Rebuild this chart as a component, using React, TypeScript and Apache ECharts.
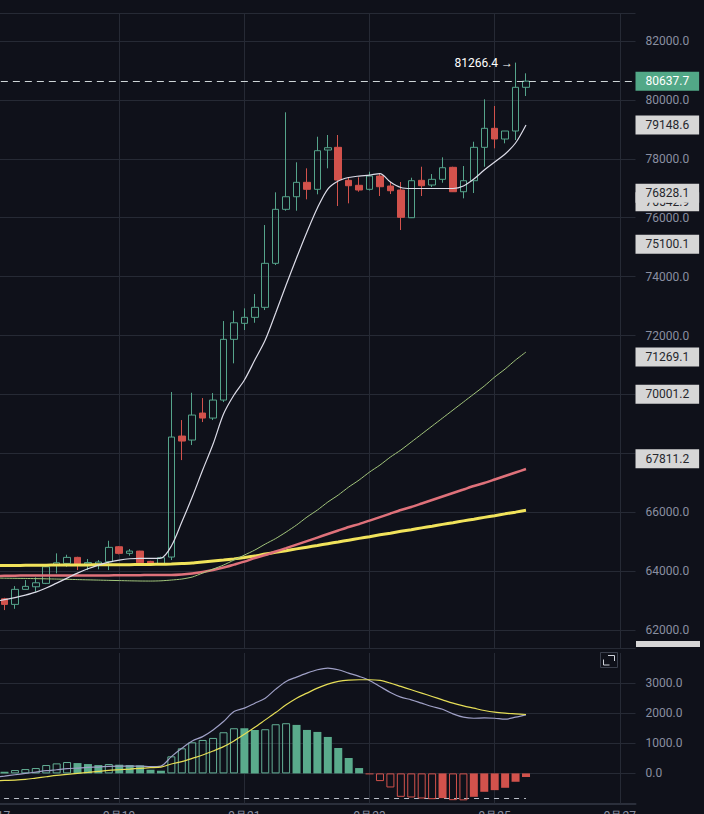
import React, { useEffect, useRef } from "react";
import * as echarts from "echarts";

// ---------- categories (4h candles; the 9/17 00:00 slot sits just off the left edge) ----------
const categories: string[] = [];
for (let i = 0; i < 62; i++) {
  const day = 17 + Math.floor(i / 6);
  const hour = (i % 6) * 4;
  categories.push(`9月${day} ${String(hour).padStart(2, "0")}:00`);
}

// ---------- candles [open, close, low, high] ----------
const candles: number[][] = [
  [63060, 62870, 62677, 63094],
  [62870, 63380, 62720, 63492],
  [63380, 63482, 63372, 63696],
  [63468, 63604, 63298, 63787],
  [63584, 64147, 63560, 64170],
  [64205, 64283, 63923, 64603],
  [64262, 64466, 64147, 64555],
  [64466, 64205, 64035, 64487],
  [64240, 64290, 64035, 64410],
  [64240, 64307, 64060, 64375],
  [64317, 64806, 64035, 65030],
  [64827, 64603, 64568, 64850],
  [64603, 64680, 64522, 64748],
  [64680, 64283, 64262, 64690],
  [64330, 64240, 64205, 64350],
  [64240, 64455, 64205, 64490],
  [64477, 68552, 64375, 70080],
  [68586, 68416, 67770, 69129],
  [68450, 69299, 68280, 70056],
  [69367, 69197, 69061, 69876],
  [69197, 69808, 69129, 70046],
  [69808, 71870, 69740, 72491],
  [71870, 72433, 71055, 72841],
  [72413, 72617, 72186, 72922],
  [72617, 72957, 72433, 73408],
  [72957, 74451, 72865, 75751],
  [74451, 76285, 74393, 76862],
  [76285, 76712, 76237, 79579],
  [76712, 77201, 76237, 77881],
  [77201, 76964, 76624, 77677],
  [76964, 78275, 76794, 78750],
  [78298, 78376, 77677, 78808],
  [78390, 77280, 76397, 78808],
  [77269, 77086, 76488, 77358],
  [77100, 76940, 76882, 77371],
  [76964, 77415, 76923, 77561],
  [77415, 77052, 76736, 77517],
  [77076, 76916, 76804, 77222],
  [76940, 76013, 75582, 77212],
  [76000, 77256, 75989, 77358],
  [77269, 77086, 76736, 77731],
  [77110, 77303, 77042, 77483],
  [77303, 77697, 77188, 78050],
  [77711, 76882, 76872, 77731],
  [76882, 77256, 76658, 77755],
  [77256, 78390, 76838, 78580],
  [78390, 79035, 77731, 80020],
  [79035, 78672, 78356, 79793],
  [78672, 78944, 78526, 78944],
  [78944, 80428, 78638, 81266.4],
  [80428, 80637.7, 80132, 80903],
];

// ---------- moving averages (first value = the off-screen 9/17 00:00 slot) ----------
const maWhite = [
  62960,
  63033, 63100, 63185, 63287, 63424, 63593, 63763, 63933, 64079, 64205,
  64307, 64375, 64419, 64432, 64432, 64443, 64850, 65665, 66514, 67431,
  68314, 69333, 69978, 70488, 71167, 71846, 72763, 73714, 74631, 75514,
  76329, 76974, 77246, 77365, 77415, 77449, 77500, 77212, 77025, 76991,
  76991, 76991, 76991, 76991, 77076, 77313, 77619, 77891, 78163, 78536,
  79148.6,
];
const maGreen = [
  63765,
  63760, 63755, 63750, 63745, 63738, 63730, 63722, 63712, 63703, 63695,
  63686, 63678, 63670, 63664, 63662, 63670, 63696, 63730, 63798, 63933,
  64069, 64205, 64375, 64545, 64714, 64918, 65105, 65326, 65564, 65835,
  66073, 66345, 66582, 66854, 67092, 67363, 67601, 67873, 68111, 68382,
  68654, 68926, 69197, 69469, 69741, 70012, 70284, 70590, 70862, 71167,
  71439,
];
const maRed = [
  63835,
  63840, 63845, 63848, 63850, 63852, 63850, 63848, 63848, 63850, 63852,
  63855, 63858, 63860, 63862, 63870, 63865, 63865, 63882, 63916, 63967,
  64035, 64120, 64221, 64323, 64443, 64545, 64664, 64782, 64901, 65020,
  65139, 65258, 65377, 65496, 65597, 65716, 65835, 65954, 66073, 66175,
  66294, 66413, 66532, 66651, 66769, 66888, 66990, 67109, 67228, 67347,
  67466,
];
const maYellow = [
  64185,
  64188, 64192, 64196, 64200, 64203, 64205, 64207, 64209, 64211, 64213,
  64215, 64217, 64219, 64222, 64226, 64232, 64239, 64256, 64273, 64307,
  64341, 64375, 64415, 64460, 64511, 64579, 64636, 64694, 64755, 64813,
  64871, 64932, 64990, 65051, 65112, 65170, 65231, 65288, 65350, 65407,
  65468, 65526, 65587, 65645, 65706, 65764, 65825, 65883, 65944, 66002,
  66063,
];

// ---------- MACD ----------
const macdHist = [
  56, 111, 144, 178, 278, 333, 378, 344, 311, 278,
  311, 289, 278, 267, 122, 89,
  567, 833, 1033, 1111, 1178, 1367, 1500, 1500, 1444, 1467,
  1633, 1667, 1611, 1444, 1378, 1211, 844, 511, 178,
  -33, -256, -467, -778, -800, -833, -856, -822, -889, -895,
  -778, -611, -556, -478, -278, -120,
];
const macdDif = [
  -130,
  -89, -44, 0, 44, 89, 122, 156, 178, 200, 211,
  233, 244, 244, 244, 222, 244,
  556, 833, 1078, 1222, 1444, 1722, 2055, 2167, 2333, 2500,
  2800, 3056, 3200, 3333, 3444, 3500, 3444, 3333, 3222,
  3089, 2889, 2689, 2533, 2444, 2333, 2222, 2133, 1978, 1867,
  1833, 1844, 1833, 1800, 1867, 1944,
];
const macdDea = [
  -245,
  -233, -222, -200, -156, -111, -67, -33, 0, 33, 67,
  100, 122, 144, 167, 189, 211,
  311, 389, 500, 611, 744, 889, 1078, 1300, 1533, 1778,
  2022, 2278, 2500, 2667, 2833, 2967, 3056, 3100, 3111,
  3111, 3089, 3000, 2889, 2778, 2667, 2556, 2444, 2333, 2244,
  2167, 2089, 2033, 2000, 1978, 1956,
];
const macdFloor = -820;

// ---------- axis / tag values ----------
const priceTicks = [62000, 64000, 66000, 68000, 70000, 72000, 74000, 76000, 78000, 80000, 82000];
const hiddenTickLabels = [68000, 70000]; // covered by price tags in the reference
const priceTags = [79148.6, 76542.9, 76828.1, 75100.1, 71269.1, 70001.2, 67811.2];
const lastPrice = 80637.7;
const highPrice = 81266.4;
const highIndex = 49;
const dateLineSlots = [12, 24, 36, 48, 60];

const BG = "#0f111a";
const GRID = "#262a35";
const LABEL = "#8a8fa1";
const UP = "#55a48b";
const UP_HIST = "#5aab8c";
const DOWN = "#d2524c";
const Y_MIN = 61355;
const Y_MAX = 82951;
const FONT = "Roboto, 'Noto Sans', sans-serif";

function App() {
  const ref = useRef<HTMLDivElement>(null);

  useEffect(() => {
    if (!ref.current) return;
    const chart = echarts.init(ref.current, undefined, { renderer: "svg" });

    const offset = 1; // first category slot holds no candle
    const candleData = [["-", "-", "-", "-"], ...candles];

    const histData = [
      null,
      ...macdHist.map((v, i) => {
        const prev = i > 0 ? macdHist[i - 1] : 0;
        const growing = i > 0 && Math.sign(prev) === Math.sign(v) && Math.abs(v) > Math.abs(prev);
        const col = v >= 0 ? UP_HIST : DOWN;
        return {
          value: v,
          itemStyle: growing
            ? { color: "transparent", borderColor: v >= 0 ? "#64b096" : DOWN, borderWidth: 1 }
            : { color: col, borderColor: col, borderWidth: 0 },
        };
      }),
    ];

    const tagLabel = (v: number, bg: string, fg: string) => ({
      show: true,
      position: "end",
      distance: 0,
      formatter: v.toFixed(1),
      color: fg,
      backgroundColor: bg,
      padding: [3, 10, 3, 10],
      fontSize: 12,
      fontFamily: FONT,
      lineHeight: 13,
      opacity: 1,
    });

    const lineSeries = (name: string, data: number[], color: string, width: number, smooth: number, xi: number, z: number) => ({
      name,
      type: "line",
      xAxisIndex: xi,
      yAxisIndex: xi,
      data,
      showSymbol: false,
      smooth,
      lineStyle: { color, width },
      z,
    });

    const option: any = {
      animation: false,
      backgroundColor: BG,
      textStyle: { fontFamily: FONT },
      grid: [
        { left: -11.15, right: 68.5, top: 13, height: 636, outerBoundsMode: "none", containLabel: false },
        { left: -11.15, right: 68.5, top: 653, height: 150.5, outerBoundsMode: "none", containLabel: false },
      ],
      xAxis: [
        {
          type: "category",
          gridIndex: 0,
          data: categories,
          boundaryGap: true,
          axisLine: { show: false, onZero: false },
          axisTick: { show: false },
          axisLabel: { show: false },
          splitLine: { show: false },
        },
        {
          type: "category",
          gridIndex: 1,
          data: categories,
          boundaryGap: true,
          axisLine: { show: true, onZero: false, lineStyle: { color: "#2b2f3b", width: 2 } },
          axisTick: { show: false },
          axisLabel: {
            interval: (i: number) => i % 12 === 0,
            formatter: (v: string) => v.split(" ")[0],
            color: LABEL,
            fontSize: 12,
            margin: 6,
          },
          splitLine: { show: false },
        },
      ],
      yAxis: [
        {
          type: "value",
          gridIndex: 0,
          min: Y_MIN,
          max: Y_MAX,
          position: "right",
          show: false,
          splitLine: { show: false },
        },
        {
          type: "value",
          gridIndex: 1,
          min: -1000,
          max: 4000,
          interval: 1000,
          position: "right",
          axisLine: { show: false },
          axisTick: { show: false },
          axisLabel: {
            color: LABEL,
            fontSize: 12,
            margin: 10,
            formatter: (v: number) => (v < 0 || v > 3000 ? "" : v.toFixed(1)),
          },
          splitLine: {
            show: true,
            lineStyle: { color: ["transparent", GRID, GRID, GRID, GRID, "transparent"], width: 1 },
          },
        },
      ],
      graphic: [
        {
          type: "rect",
          shape: { x: 636, y: 641, width: 64, height: 6 },
          style: { fill: "#d6d6d6" },
          z: 10,
        },
        {
          type: "rect",
          shape: { x: 600.5, y: 652.5, width: 17, height: 15 },
          style: { fill: "none", stroke: "#3b404d", lineWidth: 1 },
          z: 10,
        },
        {
          type: "polyline",
          shape: { points: [[608, 655.5], [614.5, 655.5], [614.5, 661]] },
          style: { fill: "none", stroke: "#d0d4dc", lineWidth: 1 },
          z: 10,
        },
        {
          type: "polyline",
          shape: { points: [[603.5, 659.5], [603.5, 665], [609.5, 665]] },
          style: { fill: "none", stroke: "#d0d4dc", lineWidth: 1 },
          z: 10,
        },
      ],
      series: [
        {
          name: "grid-main",
          type: "line",
          xAxisIndex: 0,
          yAxisIndex: 0,
          data: [],
          silent: true,
          markLine: {
            silent: true,
            z: 1,
            symbol: ["none", "none"],
            animation: false,
            label: { show: false },
            lineStyle: { color: GRID, width: 1, type: "solid" },
            data: [
              ...priceTicks.map((v) => ({
                yAxis: v,
                lineStyle: { color: GRID, width: 1, type: "solid" },
                label: {
                  show: !hiddenTickLabels.includes(v),
                  position: "end",
                  distance: 10,
                  formatter: v.toFixed(1),
                  color: LABEL,
                  fontSize: 12,
                  fontFamily: FONT,
                },
              })),
              { yAxis: Y_MAX - 20, lineStyle: { color: GRID, width: 1, type: "solid" } },
              { yAxis: Y_MIN + 20, lineStyle: { color: GRID, width: 1, type: "solid" } },
              ...dateLineSlots.map((i) => ({
                xAxis: i,
                lineStyle: { color: GRID, width: 1, type: "solid" },
              })),
            ],
          },
        },
        {
          name: "K",
          type: "candlestick",
          xAxisIndex: 0,
          yAxisIndex: 0,
          data: candleData,
          barWidth: 7,
          itemStyle: {
            color: "transparent",
            color0: DOWN,
            borderColor: UP,
            borderColor0: DOWN,
            borderWidth: 1,
          },
          markLine: {
            silent: true,
            symbol: ["none", "none"],
            animation: false,
            data: [
              {
                yAxis: lastPrice,
                lineStyle: { color: "#cfd6d8", width: 1, type: [7, 5] },
                label: tagLabel(lastPrice, "#52a887", "#ffffff"),
              },
              ...priceTags.map((v) => ({
                yAxis: v,
                lineStyle: { color: "rgba(0,0,0,0)", width: 0 },
                label: tagLabel(v, "#d6d6d6", "#25272d"),
              })),
            ],
          },
          markPoint: {
            silent: true,
            symbol: "circle",
            symbolSize: 1,
            itemStyle: { color: "transparent" },
            data: [
              {
                coord: [highIndex + offset, highPrice],
                label: {
                  show: true,
                  position: "left",
                  distance: 2,
                  formatter: `${highPrice.toFixed(1)} →`,
                  color: "#ffffff",
                  fontSize: 12,
                  fontFamily: FONT,
                },
              },
            ],
          },
        },
        lineSeries("MA-yellow", maYellow, "#f1e35b", 3, 0.2, 0, 3),
        lineSeries("MA-red", maRed, "#df717a", 2.5, 0.2, 0, 3),
        lineSeries("MA-green", maGreen, "#a3c67c", 1, 0.2, 0, 3),
        lineSeries("MA-white", maWhite, "#dcdce8", 1.2, 0.3, 0, 4),
        {
          name: "grid-macd",
          type: "line",
          xAxisIndex: 1,
          yAxisIndex: 1,
          data: [],
          silent: true,
          markLine: {
            silent: true,
            z: 1,
            symbol: ["none", "none"],
            animation: false,
            label: { show: false },
            data: [
              ...dateLineSlots.map((i) => ({
                xAxis: i,
                lineStyle: { color: GRID, width: 1, type: "solid" },
              })),
              [
                { coord: [0, macdFloor], lineStyle: { color: "#b9bec8", width: 1, type: [5, 5] } },
                { coord: [macdHist.length - 1 + offset, macdFloor] },
              ],
            ],
          },
        },
        {
          name: "MACD",
          type: "bar",
          xAxisIndex: 1,
          yAxisIndex: 1,
          data: histData,
          barWidth: 8,
        },
        lineSeries("DIF", macdDif, "#9fa0c6", 1.2, 0.3, 1, 4),
        lineSeries("DEA", macdDea, "#e6de57", 1.2, 0.3, 1, 4),
      ],
    };

    chart.setOption(option);
    return () => chart.dispose();
  }, []);

  return (
    <div
      ref={ref}
      style={{ position: "fixed", left: 0, top: 0, width: 704, height: 814, background: BG }}
    />
  );
}

export default App;
